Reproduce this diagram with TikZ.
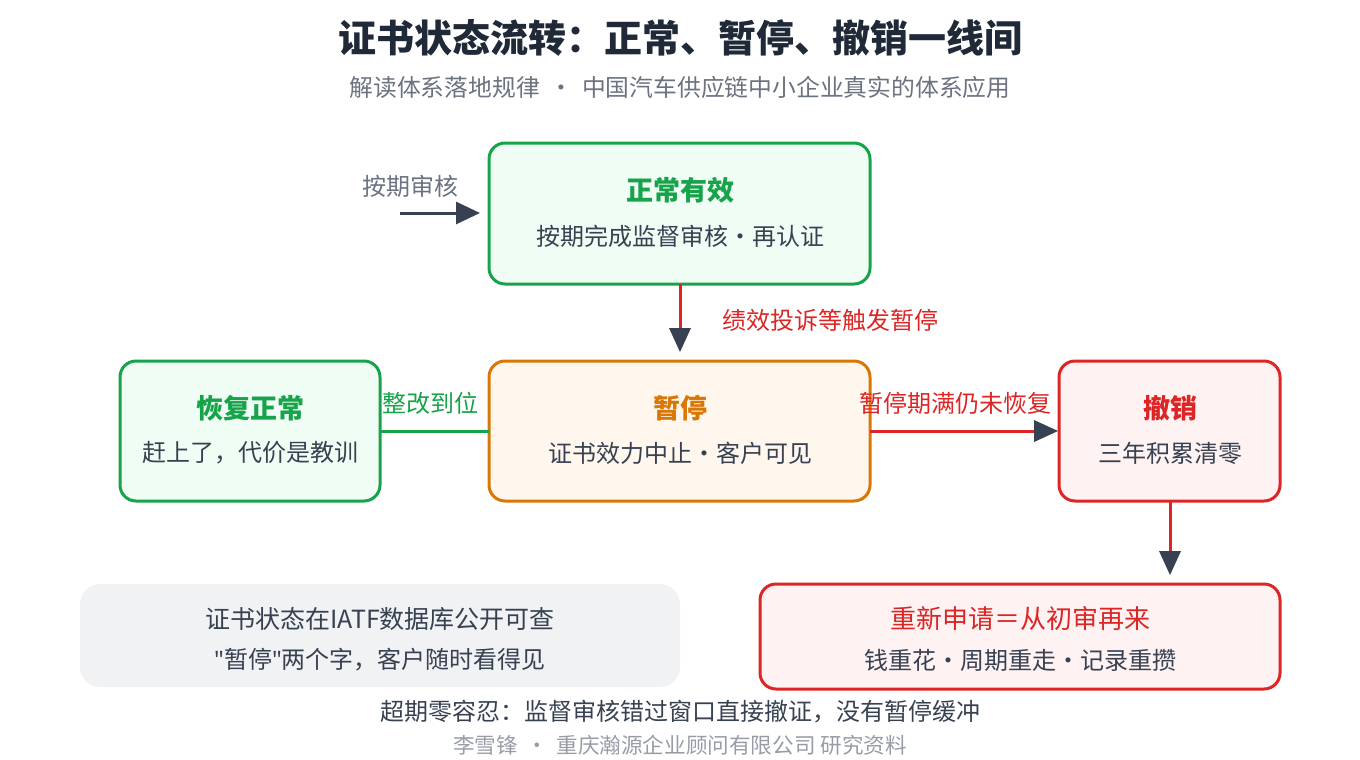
\documentclass[tikz,border=0pt]{standalone}
\usepackage{fontspec}
\setmainfont{Noto Sans CJK SC}
\newfontfamily\latin{Noto Sans}
\usetikzlibrary{arrows.meta}
\definecolor{ink}{HTML}{374151}
\definecolor{okgreen}{HTML}{16A34A}
\definecolor{okfill}{HTML}{F0FDF4}
\definecolor{warn}{HTML}{D97706}
\definecolor{warnfill}{HTML}{FFF7ED}
\definecolor{bad}{HTML}{DC2626}
\definecolor{badfill}{HTML}{FEF2F2}
\definecolor{grayfill}{HTML}{F1F2F4}
\definecolor{subgray}{HTML}{6B7280}
\definecolor{title}{HTML}{1F2937}
\tikzset{
  box/.style = {rectangle, rounded corners=8pt, line width=1.5pt},
  head/.style = {font=\fontsize{13.5}{16}\selectfont\bfseries},
  body/.style = {font=\fontsize{12}{14}\selectfont, text=ink},
  tip/.style = {-{Triangle[length=12pt,width=11pt]}}
}
\begin{document}
\begin{tikzpicture}[x=0.5pt,y=-0.5pt]
  \useasboundingbox (0,0) rectangle (1360,760);
  % title
  \node[font=\fontsize{19}{22}\selectfont\bfseries, text=title] (title) at (680,38) {证书状态流转：正常、暂停、撤销一线间};
  \node[font=\fontsize{11.9}{14}\selectfont, text=subgray] (subtitle) at (680,87) {解读体系落地规律 \,•\, 中国汽车供应链中小企业真实的体系应用};

  % boxes
  \draw[box, draw=okgreen, fill=okfill] (489,143) rectangle (870,284);
  \node[head, text=okgreen] (normal) at (680,190) {正常有效};
  \node[body] at (680,236) {按期完成监督审核・再认证};

  \draw[box, draw=warn, fill=warnfill] (489,361) rectangle (870,501);
  \node[head, text=warn] (pause) at (680,408) {暂停};
  \node[body] at (680,453) {证书效力中止・客户可见};

  \draw[box, draw=okgreen, fill=okfill] (120,361) rectangle (380,501);
  \node[head, text=okgreen] (restore) at (250,408) {恢复正常};
  \node[body] at (250,453) {赶上了，代价是教训};

  \draw[box, draw=bad, fill=badfill] (1059,361) rectangle (1280,501);
  \node[head, text=bad] (revoke) at (1170,408) {撤销};
  \node[body] at (1170,453) {三年积累清零};

  \draw[box, draw=bad, fill=badfill] (760,584) rectangle (1280,689);
  \node[text=bad, font=\fontsize{13}{15}\selectfont] (reapply) at (1020,619) {重新申请＝从初审再来};
  \node[body] at (1020,660) {钱重花・周期重走・记录重攒};

  \fill[grayfill, rounded corners=10pt] (80,584) rectangle (680,687);
  \node[body, font=\fontsize{12.5}{15}\selectfont] (public) at (380,619) {证书状态在IATF数据库公开可查};
  \node[body] at (380,660) {{\latin"}暂停{\latin"}两个字，客户随时看得见};

  % connectors
  \coordinate (startA) at (400,213);
  \coordinate (endA) at (480,213);
  \node[body, text=subgray] (audit) at (410,186) {按期审核};
  \draw[ink, line width=1.5pt, tip] (startA) -- (endA);

  \coordinate (nbot) at (680,284);
  \coordinate (ptop) at (680,352);
  \draw[bad, line width=1.5pt] (nbot) -- ([yshift=10pt]ptop);
  \fill[ink] (ptop) -- ++(-11,-24) -- ++(22,0) -- cycle;
  \node[body, text=bad] (trig) at (830,320) {绩效投诉等触发暂停};

  \coordinate (rr) at (380,431);
  \coordinate (pl) at (489,431);
  \draw[okgreen, line width=1.5pt] (rr) -- (pl);
  \node[body, text=okgreen] (fix) at (430,403) {整改到位};

  \coordinate (pr) at (870,431);
  \coordinate (vl) at (1058,431);
  \draw[bad, line width=1.5pt] (pr) -- ([xshift=-10pt]vl);
  \fill[ink] (vl) -- ++(-24,-11) -- ++(0,22) -- cycle;
  \node[body, text=bad] (expire) at (955,403) {暂停期满仍未恢复};

  \coordinate (vb) at (1170,501);
  \coordinate (rt) at (1170,575);
  \draw[bad, line width=1.5pt] (vb) -- ([yshift=10pt]rt);
  \fill[ink] (rt) -- ++(-11,-24) -- ++(22,0) -- cycle;

  % footer
  \node[font=\fontsize{12}{14}\selectfont, text=ink] (zero) at (680,712) {超期零容忍：监督审核错过窗口直接撤证，没有暂停缓冲};
  \node[font=\fontsize{10.8}{13}\selectfont, text=subgray!70] (credit) at (680,745) {李雪锋 \,•\, 重庆瀚源企业顾问有限公司 研究资料};
\end{tikzpicture}
\end{document}
